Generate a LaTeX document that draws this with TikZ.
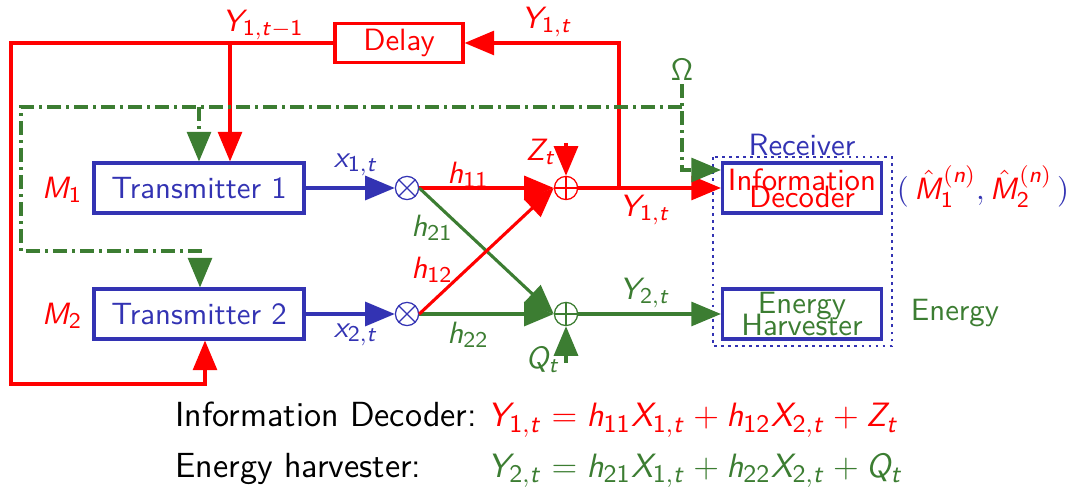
\documentclass[tikz,border=0pt,11pt]{standalone}
\usetikzlibrary{arrows.meta}
\definecolor{txblue}{RGB}{51,51,179}
\definecolor{ehgreen}{RGB}{60,125,50}
% sans serif math letters
\DeclareSymbolFont{sfit}{OT1}{cmss}{m}{sl}
\DeclareSymbolFont{sfup}{OT1}{cmss}{m}{n}
\DeclareMathSymbol{Y}{\mathalpha}{sfit}{`Y}
\DeclareMathSymbol{M}{\mathalpha}{sfit}{`M}
\DeclareMathSymbol{X}{\mathalpha}{sfit}{`X}
\DeclareMathSymbol{Z}{\mathalpha}{sfit}{`Z}
\DeclareMathSymbol{Q}{\mathalpha}{sfit}{`Q}
\DeclareMathSymbol{h}{\mathalpha}{sfit}{`h}
\DeclareMathSymbol{x}{\mathalpha}{sfit}{`x}
\DeclareMathSymbol{t}{\mathalpha}{sfit}{`t}
\DeclareMathSymbol{n}{\mathalpha}{sfit}{`n}
\DeclareMathSymbol{1}{\mathalpha}{sfup}{`1}
\DeclareMathSymbol{2}{\mathalpha}{sfup}{`2}
\DeclareMathSymbol{\Omega}{\mathalpha}{sfup}{"0A}

\begin{document}
\begin{tikzpicture}[x=0.0125cm,y=-0.0125cm,
  every node/.style={font=\sffamily},
  txbox/.style={draw=txblue,line width=1.1pt,text=txblue,minimum width=2.625cm,minimum height=0.625cm,inner sep=0pt},
  delaybox/.style={draw=red,line width=1.1pt,text=red,minimum width=1.6cm,minimum height=0.4875cm,inner sep=0pt},
  rxbox/.style={draw=txblue,line width=1.1pt,minimum width=1.9875cm,minimum height=0.625cm,inner sep=0pt,align=center},
  mixer/.style={circle,draw=#1,line width=0.45pt,minimum size=0.29cm,inner sep=0pt,
    path picture={\draw[#1,line width=0.45pt] (path picture bounding box.north west) -- (path picture bounding box.south east)
      (path picture bounding box.south west) -- (path picture bounding box.north east);}},
  adder/.style={circle,draw=#1,line width=0.45pt,minimum size=0.29cm,inner sep=0pt,
    path picture={\draw[#1,line width=0.45pt] (path picture bounding box.north) -- (path picture bounding box.south)
      (path picture bounding box.west) -- (path picture bounding box.east);}},
  sig/.style={line width=1.1pt,-{Triangle[length=10.5pt,width=8.5pt]}},
  fb/.style={line width=1.1pt,ehgreen,dash pattern=on 5pt off 1.8pt on 1pt off 1.8pt},
  lbl/.style={inner sep=1pt},
  eqn/.style={anchor=base west,inner sep=0pt,font=\fontsize{12.4pt}{15pt}\selectfont\sffamily}]
\useasboundingbox (0,0) rectangle (1069,490);

% transmitters and messages
\node[txbox] (tx1) at (199,188) {Transmitter 1};
\node[txbox] (tx2) at (199,314) {Transmitter 2};
\node[lbl,text=red] (m1) at (62,190) {$M_1$};
\node[lbl,text=red] (m2) at (62,316) {$M_2$};

% channel
\node[mixer=txblue] (mx1) at (407,188) {};
\node[mixer=txblue] (mx2) at (407,314) {};
\node[adder=red] (ad1) at (566,188) {};
\node[adder=ehgreen] (ad2) at (566,314) {};

\draw[sig,txblue] (tx1.east) -- (mx1.west);
\draw[sig,txblue] (tx2.east) -- (mx2.west);
\node[lbl,text=txblue] (x1) at (356,165) {$x_{1,t}$};
\node[lbl,text=txblue] (x2) at (356,335) {$x_{2,t}$};

\draw[sig,red] (mx1.east) -- (ad1.west);
\draw[sig,ehgreen] (mx1.east) -- (ad2.west);
\draw[sig,ehgreen] (mx2.east) -- (ad2.west);
\draw[sig,red] (mx2.east) -- (ad1.west);
\node[lbl,text=red] (h11) at (468,175) {$h_{11}$};
\node[lbl,text=ehgreen] (h21) at (432,228) {$h_{21}$};
\node[lbl,text=red] (h12) at (432,270) {$h_{12}$};
\node[lbl,text=ehgreen] (h22) at (468,335) {$h_{22}$};

% noise
\coordinate (zin) at (566,143);
\coordinate (qin) at (566,363);
\draw[sig,red] (zin) -- (ad1.north);
\draw[sig,ehgreen] (qin) -- (ad2.south);
\node[lbl,text=red] (zt) at (541,152) {$Z_t$};
\node[lbl,text=ehgreen] (qt) at (543,360) {$Q_t$};

% receiver
\node[rxbox,text=red] (dec) at (802,188) {Information\\[-7.5pt]Decoder};
\node[rxbox,text=ehgreen] (eh) at (802,314) {Energy\\[-6pt]Harvester};
\draw[txblue,line width=1pt,dash pattern=on 1pt off 1.5pt] (713,157) rectangle (892,346);
\node[lbl,text=txblue] (rcv) at (802,145) {Receiver};
\node[lbl,text=txblue] (mhat) at (983,187) {$\big(\,\textcolor{red}{\hat{M}_1^{(n)}},\textcolor{red}{\hat{M}_2^{(n)}}\,\big)$};
\node[lbl,text=ehgreen] (energy) at (955,313) {Energy};

\draw[sig,red] (ad1.east) -- (dec.west);
\draw[sig,ehgreen] (ad2.east) -- (eh.west);
\node[lbl,text=red] (y1) at (645,210) {$Y_{1,t}$};
\node[lbl,text=ehgreen] (y2) at (645,293) {$Y_{2,t}$};

% output feedback through the delay
\node[delaybox] (delay) at (399,43) {Delay};
\coordinate (ytap) at (619,188);
\coordinate (ytop) at (619,43);
\draw[sig,red] (ytap) -- (ytop) -- (delay.east);
\node[lbl,text=red] (y1top) at (547,22) {$Y_{1,t}$};
\node[lbl,text=red] (y1old) at (263,25) {$Y_{1,t-1}$};
\coordinate (t1tap) at (230,43);
\coordinate (lcorner) at (11,43);
\coordinate (lbot) at (11,384);
\coordinate (t2in) at (205,384);
\draw[sig,red] (t1tap) -- (t1tap |- tx1.north);
\draw[sig,red] (delay.west) -- (lcorner) -- (lbot) -- (t2in) -- (t2in |- tx2.south);

% energy feedback
\node[lbl,text=ehgreen] (omega) at (682,70) {$\Omega$};
\coordinate (okink) at (682,170);
\coordinate (otee) at (682,107);
\coordinate (gl1) at (21,107);
\coordinate (gl2) at (21,251);
\coordinate (gl3) at (200,251);
\coordinate (g1tap) at (199,107);
\draw[fb,-{Triangle[length=10.5pt,width=8.5pt]}] (omega.south) -- (okink) -- (okink -| dec.west);
\draw[fb,-{Triangle[length=10.5pt,width=8.5pt]}] (otee) -- (gl1) -- (gl2) -- (gl3) -- (gl3 |- tx2.north);
\draw[fb,-{Triangle[length=10.5pt,width=8.5pt]}] (g1tap) -- (g1tap |- tx1.north);

% signal model
\node[eqn] (eqlbl1) at (175,427) {Information Decoder:};
\node[eqn] (eqlbl2) at (175,477) {Energy harvester:};
\node[eqn,text=red] (eq1) at (487,427) {$Y_{1,t}=h_{11}X_{1,t}+h_{12}X_{2,t}+Z_t$};
\node[eqn,text=ehgreen] (eq2) at (487,477) {$Y_{2,t}=h_{21}X_{1,t}+h_{22}X_{2,t}+Q_t$};
\end{tikzpicture}
\end{document}
